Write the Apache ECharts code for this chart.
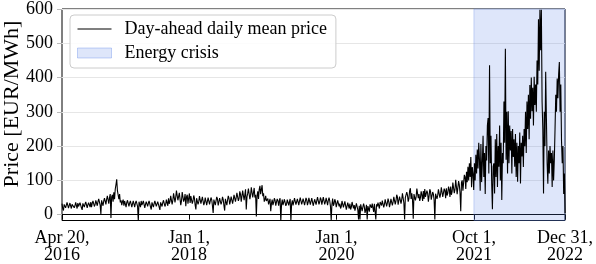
<!DOCTYPE html>
<html><head><meta charset="utf-8">
<script src="https://cdn.jsdelivr.net/npm/echarts@6/dist/echarts.min.js"></script>
<style>html,body{margin:0;padding:0;background:#fff}#c{width:596px;height:264px}</style>
</head><body><div id="c"></div>
<script>
// x positions are "days since Apr 20, 2016" on the plotted scale
const stepDays = 3.5;
const spanDays = 2446;
const tickDays = [0, 617, 1335, 2003, 2446];
const tickLabels = ['Apr 20,\n2016', 'Jan 1,\n2018', 'Jan 1,\n2020', 'Oct 1,\n2021', 'Dec 31,\n2022'];
const crisisRange = [2003, 2446];
const yTicks = [0, 100, 200, 300, 400, 500, 600];

const price2016_17 = [
  32,18,12,30,34,20,28,36,33,19,24,34,31,18,30,35,33,20,26,36,
  31,18,34,24,28,35,36,20,14,33,34,22,31,37,36,20,29,35,34,22,
  37,22,33,40,40,24,30,42,42,26,38,46,46,28,2,42,44,26,40,48,
  48,30,45,55,52,32,50,60,-10,52,58,38,65,45,75,88,103,70,68,45,
  60,36,42,28,38,44,26,40,40,22,36,42,38,24,34,40,39,22,32,40,
  36,22,34,40,38,24,-19,38,36,22,40,28,33,40,38,20,30,38,38,24,
  34,40,37,22,15,36,36,22,32,40,39,24,29,38,36,22,14,36,37,24,
  35,42,38,24,30,44,40,26,48,32,38,55,55,30,42,62,65,36,50,70,
  74,42,46,64,60,28,40,66,68,38,45,60,25,52,58,32,48,62,34,54
];
const price2018_19 = [
  52,32,40,56,48,28,15,48,50,30,38,54,55,32,42,52,48,28,35,50,
  46,28,32,50,50,30,40,50,44,26,5,44,48,28,40,52,46,27,37,48,
  48,30,38,52,44,26,12,46,50,28,42,55,48,30,40,53,52,32,44,58,
  57,38,50,64,64,40,47,68,60,38,54,70,66,42,58,74,15,52,62,76,
  72,45,57,80,83,50,64,78,50,58,-5,55,68,46,74,84,60,62,86,54,
  62,38,44,55,40,36,47,30,38,46,10,32,44,28,35,48,42,26,37,46,
  40,26,42,48,-19,30,44,28,36,45,42,26,32,44,40,27,38,46,-19,31,
  42,27,37,48,46,29,34,46,44,28,40,50,48,30,32,47,45,28,38,49,
  43,28,36,49,47,29,39,48,45,26,22,45,46,29,41,51,48,30,37,50,
  44,29,40,51,49,30,38,49,46,28,42,50,40,24,-16,30,47,26,32,45
];
const price2020_21 = [
  38,22,27,42,42,24,32,18,24,40,40,21,30,39,37,15,18,35,34,18,
  32,15,22,37,36,18,28,12,10,33,32,14,-14,26,-14,30,30,10,22,32,
  24,5,14,29,-14,25,27,9,30,27,20,32,28,8,32,29,-14,30,24,35,
  32,18,37,33,27,41,40,21,30,45,42,24,34,47,38,22,32,46,44,27,
  37,52,47,30,40,58,52,29,26,53,50,32,44,62,57,34,-14,50,52,66,
  57,38,47,70,77,46,62,42,-12,60,64,42,52,76,81,48,60,40,50,68,
  57,40,69,46,75,52,50,70,62,38,54,74,68,44,47,66,60,42,-14,61,
  64,46,57,74,72,50,60,80,75,52,54,76,70,48,77,56,62,82,74,52,
  82,58,67,94,92,63,74,102,97,60,64,98,87,63,10,94,100,70,94,116,
  110,75,125,95,140,100,150,110,168,80,139,120,72,150,100,175,120,190,135,210
];
const price2021_22 = [
  160,70,206,95,150,230,110,180,60,200,158,260,282,120,436,150,230,90,16,140,
  150,62,220,110,235,81,200,140,260,100,210,43,180,150,330,210,484,160,300,120,
  302,150,260,187,244,120,250,168,220,140,235,110,210,96,200,150,240,91,210,170,
  230,139,250,200,300,180,330,250,350,220,378,280,400,302,370,260,402,320,380,300,
  450,380,570,420,598,480,598,330,250,62,300,200,417,283,150,90,187,120,200,150,
  180,81,187,100,160,250,350,300,397,340,410,445,300,380,215,150,200,60,120,5
];

const prices = [].concat(price2016_17, price2018_19, price2020_21, price2021_22);
const lineData = prices.map((v, i) => [i * stepDays, v]);

const FONT = '"Liberation Serif", "DejaVu Serif", serif';
const shade = 'rgba(90,130,230,0.2)';

const chart = echarts.init(document.getElementById('c'), null, {renderer: 'canvas'});
chart.setOption({
  animation: false,
  backgroundColor: '#fff',
  grid: {left: 62, right: 29, top: 6, bottom: 43, show: true, borderColor: '#000', borderWidth: 1, backgroundColor: 'transparent'},
  xAxis: {
    type: 'value', min: 0, max: spanDays,
    axisLine: {show: true, lineStyle: {color: '#000', width: 1}},
    axisTick: {show: true, customValues: tickDays, length: 5, lineStyle: {color: '#000', width: 1}},
    axisLabel: {
      customValues: tickDays, color: '#000', fontFamily: FONT, fontSize: 18, lineHeight: 17, margin: 9,
      formatter: v => { const k = tickDays.indexOf(Math.round(v)); return k >= 0 ? tickLabels[k] : ''; }
    },
    splitLine: {show: false}
  },
  yAxis: {
    type: 'value', min: -17, max: 600,
    axisLine: {show: false},
    axisTick: {show: true, customValues: yTicks, length: 5, lineStyle: {color: '#bbb', width: 1}},
    axisLabel: {customValues: yTicks, color: '#000', fontFamily: FONT, fontSize: 18, margin: 9},
    splitLine: {show: false}
  },
  legend: {
    orient: 'vertical', left: 70, top: 15,
    itemWidth: 34, itemHeight: 10, itemGap: 4,
    padding: [4, 9, 5, 7],
    backgroundColor: 'rgba(255,255,255,0.85)', borderColor: '#ccc', borderWidth: 1, borderRadius: 4,
    textStyle: {fontFamily: FONT, fontSize: 18, color: '#000', lineHeight: 20, padding: [0, 0, 0, 8]},
    selectedMode: false,
    data: [
      {name: 'Day-ahead daily mean price', icon: 'path://M0,0h34v1h-34z', itemStyle: {color: '#000'}},
      {name: 'Energy crisis', icon: 'rect', itemStyle: {color: shade, borderColor: 'rgba(90,130,230,0.35)', borderWidth: 1}}
    ]
  },
  series: [
    {
      name: 'grid', type: 'line', data: [], z: 0, silent: true,
      markLine: {
        z: 0, silent: true, symbol: 'none', animation: false,
        label: {show: false},
        lineStyle: {color: '#e6e6e6', width: 1, type: 'solid'},
        data: yTicks.map(v => ({yAxis: v}))
      }
    },
    {
      name: 'Energy crisis', type: 'line', data: [], z: 1, silent: true,
      itemStyle: {color: shade},
      markArea: {
        z: 1, silent: true,
        itemStyle: {color: shade, borderColor: 'rgba(90,130,230,0.3)', borderWidth: 1},
        data: [[{xAxis: crisisRange[0]}, {xAxis: crisisRange[1]}]]
      }
    },
    {
      name: 'Day-ahead daily mean price', type: 'line', data: lineData, z: 3,
      symbol: 'none', showSymbol: false, clip: true,
      lineStyle: {color: '#000', width: 1.1},
      itemStyle: {color: '#000'}
    }
  ],
  graphic: [{
    type: 'text', x: 12, y: 104, rotation: Math.PI / 2,
    style: {text: 'Price [EUR/MWh]', font: '22px "Liberation Serif", serif', fill: '#000', textAlign: 'center', textVerticalAlign: 'middle'}
  }]
});
</script>
</body></html>
